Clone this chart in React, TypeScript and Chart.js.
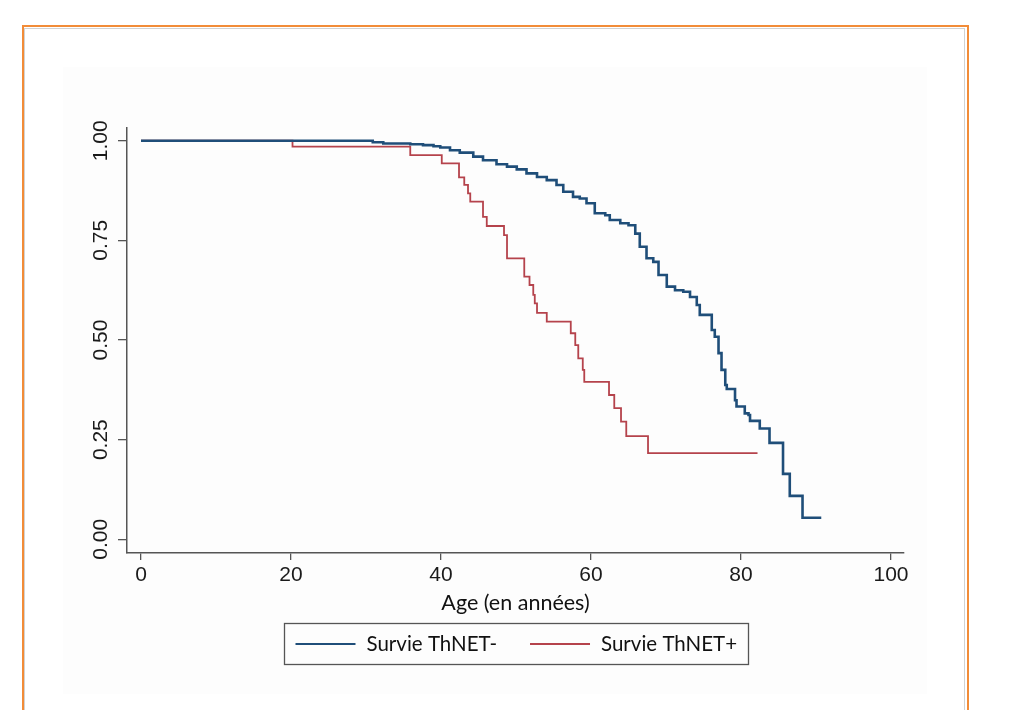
import React, { useEffect, useRef } from "react";
import { Chart, registerables } from "chart.js";

Chart.register(...registerables);

// ---- data ----
const seriesLabels = ["Survie ThNET-", "Survie ThNET+"];
const xTicks = [0, 20, 40, 60, 80, 100];
const yTicks = [0, 0.25, 0.5, 0.75, 1];

const negAges = [
  0, 30.9, 32.3, 35.9, 37.6, 39.0, 39.9, 41.2, 42.5, 44.3, 45.6, 47.4, 48.8, 50.1,
  51.4, 52.8, 54.1, 55.4, 56.3, 57.6, 58.5, 59.4, 60.5, 61.9, 62.5, 63.9, 65.0,
  65.9, 66.5, 67.4, 68.3, 69.0, 70.1, 71.2, 72.3, 73.2, 74.1, 74.5, 76.1, 76.5,
  77.0, 77.4, 77.9, 78.1, 79.2, 79.4, 80.5, 81.0, 81.2, 82.5, 83.8, 85.6, 86.5,
  88.2, 90.7,
];
const negSurv = [
  1.0, 0.996, 0.993, 0.991, 0.989, 0.986, 0.983, 0.976, 0.97, 0.96, 0.951, 0.941,
  0.935, 0.928, 0.918, 0.909, 0.901, 0.889, 0.872, 0.859, 0.855, 0.843, 0.818,
  0.813, 0.801, 0.793, 0.788, 0.767, 0.734, 0.705, 0.696, 0.663, 0.634, 0.625,
  0.621, 0.608, 0.588, 0.563, 0.525, 0.508, 0.467, 0.425, 0.387, 0.377, 0.349,
  0.333, 0.316, 0.312, 0.297, 0.278, 0.242, 0.164, 0.109, 0.054, 0.054,
];

const posAges = [
  0, 20.2, 35.9, 40.1, 42.4, 43.1, 43.6, 43.9, 45.6, 46.1, 48.4, 48.8, 51.1, 51.8,
  52.3, 52.5, 52.8, 54.1, 57.3, 57.9, 58.3, 58.9, 59.1, 62.4, 63.1, 64.0, 64.7,
  67.6, 82.2,
];
const posSurv = [
  1.0, 0.985, 0.964, 0.943, 0.908, 0.889, 0.868, 0.847, 0.809, 0.786, 0.763, 0.705,
  0.659, 0.638, 0.613, 0.592, 0.568, 0.546, 0.517, 0.487, 0.454, 0.425, 0.395,
  0.362, 0.329, 0.295, 0.259, 0.216, 0.216,
];

const seriesColors = ["#1f4e79", "#b5434c"];

const tickFont = { family: "Liberation Sans, Arial, Helvetica, sans-serif", size: 21 };
const textFamily = "Lato, sans-serif";

const boxLegend = {
  id: "boxLegend",
  afterDraw(chart: any) {
    const ctx = chart.ctx;
    const ca = chart.chartArea;
    ctx.save();
    ctx.font = `20.5px ${textFamily}`;
    const pad = 11, lineLen = 60, gapLT = 11, gapItems = 33, h = 41;
    const items = chart.data.datasets.map((ds: any) => ({
      label: ds.label,
      color: ds.borderColor,
      w: ctx.measureText(ds.label).width,
    }));
    const total =
      pad * 2 +
      items.reduce((a: number, it: any) => a + lineLen + gapLT + it.w, 0) +
      gapItems * (items.length - 1);
    const cx = (ca.left + ca.right) / 2;
    const top = ca.bottom + 70;
    let x = Math.round(cx - total / 2) + 0.5;
    ctx.strokeStyle = "#555";
    ctx.lineWidth = 1.3;
    ctx.strokeRect(x, top + 0.5, Math.round(total), h);
    const cy = top + h / 2 + 0.5;
    x += pad;
    items.forEach((it: any) => {
      ctx.strokeStyle = it.color;
      ctx.lineWidth = 2;
      ctx.beginPath();
      ctx.moveTo(x, cy);
      ctx.lineTo(x + lineLen, cy);
      ctx.stroke();
      ctx.fillStyle = "#111";
      ctx.textAlign = "left";
      ctx.textBaseline = "middle";
      ctx.fillText(it.label, x + lineLen + gapLT, cy);
      x += lineLen + gapLT + it.w + gapItems;
    });
    ctx.restore();
  },
};

export default function App() {
  const ref = useRef<HTMLCanvasElement | null>(null);

  useEffect(() => {
    if (!ref.current) return;
    const chart = new Chart(ref.current, {
      type: "line",
      data: {
        datasets: [
          {
            label: seriesLabels[0],
            data: negAges.map((a, i) => ({ x: a, y: negSurv[i] })),
            borderColor: seriesColors[0],
            borderWidth: 2.6,
            stepped: "before",
            pointRadius: 0,
            fill: false,
          },
          {
            label: seriesLabels[1],
            data: posAges.map((a, i) => ({ x: a, y: posSurv[i] })),
            borderColor: seriesColors[1],
            borderWidth: 1.8,
            stepped: "before",
            pointRadius: 0,
            fill: false,
          },
        ],
      },
      options: {
        responsive: false,
        animation: false,
        devicePixelRatio: 1,
        layout: { padding: { left: 0, right: 23, top: 61, bottom: 71 } },
        plugins: { legend: { display: false }, tooltip: { enabled: false } },
        scales: {
          x: {
            type: "linear",
            min: -1.867,
            max: 101.73,
            afterBuildTicks: (s: any) => {
              s.ticks = xTicks.map((v) => ({ value: v }));
            },
            afterFit: (s: any) => {
              s.height = 70;
            },
            ticks: {
              autoSkip: false,
              maxRotation: 0,
              padding: 3,
              font: tickFont,
              color: "#1a1a1a",
              callback: (v: any) => String(v),
            },
            grid: { drawOnChartArea: false, drawTicks: true, tickLength: 7, color: "#555", lineWidth: 1.3 },
            border: { display: true, color: "#555", width: 1.5 },
            title: {
              display: true,
              text: "Age (en années)",
              font: { family: textFamily, size: 21.5 },
              color: "#111",
              padding: { top: 0, bottom: 7 },
            },
          },
          y: {
            type: "linear",
            min: -0.0344,
            max: 1.0319,
            afterBuildTicks: (s: any) => {
              s.ticks = yTicks.map((v) => ({ value: v }));
            },
            afterFit: (s: any) => {
              s.width = 64;
            },
            ticks: {
              autoSkip: false,
              minRotation: 90,
              maxRotation: 90,
              crossAlign: "center",
              padding: -4,
              font: tickFont,
              color: "#1a1a1a",
              callback: (v: any) => Number(v).toFixed(2),
            },
            grid: { drawOnChartArea: false, drawTicks: true, tickLength: 9, color: "#555", lineWidth: 1.3 },
            border: { display: true, color: "#555", width: 1.5 },
          },
        },
      },
      plugins: [boxLegend],
    } as any);
    return () => chart.destroy();
  }, []);

  return (
    <div style={{ position: "absolute", left: 0, top: 0, width: 1012, height: 710, overflow: "hidden", background: "#fff" }}>
      <div
        style={{
          position: "absolute",
          left: 22,
          top: 25,
          width: 947,
          height: 720,
          boxSizing: "border-box",
          border: "2px solid #f28c38",
        }}
      />
      <div
        style={{
          position: "absolute",
          left: 24,
          top: 28,
          width: 941,
          height: 720,
          boxSizing: "border-box",
          border: "1px solid #d2d2d2",
        }}
      />
      <canvas
        ref={ref}
        width={864}
        height={627}
        style={{ position: "absolute", left: 63, top: 67, width: 864, height: 627, background: "#fdfdfd" }}
      />
    </div>
  );
}
